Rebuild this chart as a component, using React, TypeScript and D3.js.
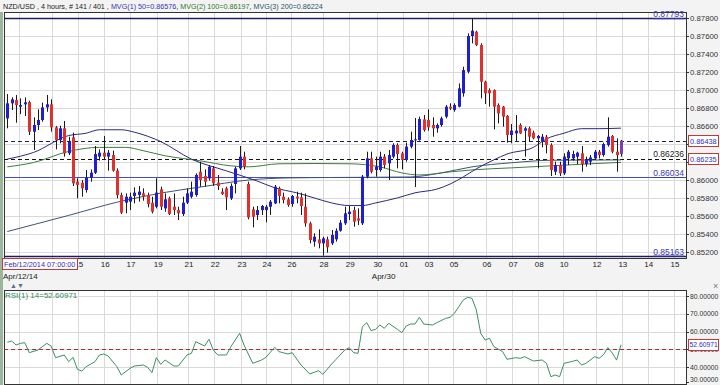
import React from 'react';
import * as d3 from 'd3';

// 4 hour NZD/USD candles
const opens = [
  0.86684, 0.86851, 0.86888, 0.86814, 0.86840, 0.86865, 0.86537, 0.86611, 0.86666, 0.86806,
  0.86840, 0.86585, 0.86445, 0.86574, 0.86297, 0.86474, 0.85983, 0.85972, 0.85890, 0.86027,
  0.86082, 0.86260, 0.86304, 0.86260, 0.86278, 0.86105, 0.85835, 0.85750, 0.85761, 0.85824,
  0.85835, 0.85853, 0.85835, 0.85750, 0.85705, 0.85898, 0.85687, 0.85798, 0.85705, 0.85668,
  0.85624, 0.85750, 0.85816, 0.85835, 0.86093, 0.86045, 0.86020, 0.86130, 0.85972, 0.85872,
  0.85909, 0.85798, 0.85957, 0.86130, 0.86260, 0.85957, 0.85676, 0.85613, 0.85668, 0.85668,
  0.85705, 0.85742, 0.85909, 0.85816, 0.85787, 0.85735, 0.85816, 0.85809, 0.85705, 0.85521,
  0.85318, 0.85344, 0.85299, 0.85344, 0.85299, 0.85344, 0.85439, 0.85521, 0.85624, 0.85668,
  0.85576, 0.85521, 0.86038, 0.86241, 0.86112, 0.86112, 0.86260, 0.86186, 0.86260, 0.86389,
  0.86297, 0.86223, 0.86371, 0.86445, 0.86445, 0.86673, 0.86666, 0.86611, 0.86574, 0.86611,
  0.86703, 0.86814, 0.86777, 0.86814, 0.86962, 0.87202, 0.87597, 0.87645, 0.87497, 0.87091,
  0.86998, 0.86998, 0.86832, 0.86814, 0.86710, 0.86500, 0.86518, 0.86611, 0.86548, 0.86574,
  0.86526, 0.86463, 0.86426, 0.86481, 0.86389, 0.86093, 0.86167, 0.86075, 0.86241, 0.86241,
  0.86260, 0.86297, 0.86178, 0.86204, 0.86241, 0.86315, 0.86278, 0.86389, 0.86489, 0.86315,
  0.86289,
];
const highs = [
  0.86954, 0.86917, 0.86943, 0.86906, 0.86917, 0.86880, 0.86696, 0.86784, 0.86858, 0.86943,
  0.86895, 0.86600, 0.86603, 0.86655, 0.86481, 0.86526, 0.86020, 0.86001, 0.86112, 0.86119,
  0.86378, 0.86341, 0.86489, 0.86334, 0.86326, 0.86130, 0.85861, 0.85853, 0.85861, 0.85920,
  0.85935, 0.85909, 0.85861, 0.85816, 0.86020, 0.85927, 0.85853, 0.85816, 0.85853, 0.85705,
  0.85816, 0.85909, 0.85983, 0.86075, 0.86204, 0.86119, 0.86167, 0.86156, 0.86057, 0.85909,
  0.85927, 0.85964, 0.86149, 0.86378, 0.86315, 0.85983, 0.85705, 0.85713, 0.85724, 0.85724,
  0.85779, 0.85946, 0.85927, 0.85861, 0.85809, 0.85835, 0.85872, 0.85861, 0.85853, 0.85539,
  0.85410, 0.85454, 0.85373, 0.85373, 0.85447, 0.85465, 0.85558, 0.85705, 0.85713, 0.85705,
  0.85687, 0.86057, 0.86315, 0.86315, 0.86260, 0.86315, 0.86289, 0.86334, 0.86408, 0.86408,
  0.86315, 0.86415, 0.86537, 0.86688, 0.86703, 0.86721, 0.86784, 0.86696, 0.86629, 0.86703,
  0.86832, 0.86851, 0.86851, 0.87072, 0.87257, 0.87626, 0.87793, 0.87656, 0.87516, 0.87102,
  0.87017, 0.87006, 0.86851, 0.86821, 0.86721, 0.86622, 0.86721, 0.86629, 0.86592, 0.86592,
  0.86548, 0.86500, 0.86511, 0.86500, 0.86408, 0.86204, 0.86204, 0.86297, 0.86334, 0.86326,
  0.86315, 0.86378, 0.86260, 0.86278, 0.86334, 0.86334, 0.86415, 0.86696, 0.86500, 0.86463,
  0.86445,
];
const lows = [
  0.86574, 0.86777, 0.86636, 0.86732, 0.86710, 0.86500, 0.86334, 0.86555, 0.86647, 0.86758,
  0.86537, 0.86341, 0.86408, 0.86260, 0.86278, 0.85935, 0.85798, 0.85816, 0.85861, 0.85983,
  0.86068, 0.86216, 0.86223, 0.86105, 0.86093, 0.85798, 0.85624, 0.85632, 0.85668, 0.85742,
  0.85761, 0.85772, 0.85698, 0.85632, 0.85687, 0.85668, 0.85650, 0.85613, 0.85613, 0.85558,
  0.85602, 0.85735, 0.85798, 0.85816, 0.85927, 0.85927, 0.85994, 0.85935, 0.85890, 0.85835,
  0.85668, 0.85779, 0.85853, 0.86112, 0.86119, 0.85565, 0.85476, 0.85558, 0.85613, 0.85532,
  0.85613, 0.85735, 0.85742, 0.85742, 0.85705, 0.85705, 0.85742, 0.85613, 0.85484, 0.85299,
  0.85262, 0.85244, 0.85163, 0.85196, 0.85281, 0.85318, 0.85428, 0.85502, 0.85558, 0.85484,
  0.85502, 0.85502, 0.86020, 0.86075, 0.86038, 0.86093, 0.86130, 0.86001, 0.86241, 0.86130,
  0.86119, 0.86204, 0.86352, 0.85924, 0.86437, 0.86537, 0.86548, 0.86481, 0.86526, 0.86592,
  0.86684, 0.86777, 0.86758, 0.86806, 0.86925, 0.87183, 0.87516, 0.87486, 0.86906, 0.86843,
  0.86814, 0.86563, 0.86629, 0.86592, 0.86415, 0.86408, 0.86426, 0.86511, 0.86260, 0.86426,
  0.86452, 0.86130, 0.86363, 0.86297, 0.86045, 0.86057, 0.86045, 0.86057, 0.86167, 0.86216,
  0.86178, 0.86093, 0.86149, 0.86167, 0.86223, 0.86241, 0.86260, 0.86371, 0.86297, 0.86093,
  0.86260,
];
const closes = [
  0.86851, 0.86895, 0.86832, 0.86832, 0.86862, 0.86537, 0.86611, 0.86666, 0.86806, 0.86840,
  0.86585, 0.86445, 0.86574, 0.86297, 0.86426, 0.85964, 0.85946, 0.85909, 0.86027, 0.86082,
  0.86289, 0.86304, 0.86260, 0.86304, 0.86105, 0.85835, 0.85639, 0.85816, 0.85816, 0.85861,
  0.85872, 0.85816, 0.85735, 0.85650, 0.85861, 0.85705, 0.85787, 0.85624, 0.85668, 0.85632,
  0.85750, 0.85853, 0.85872, 0.86057, 0.86001, 0.85983, 0.86149, 0.85964, 0.85935, 0.85846,
  0.85809, 0.85935, 0.86130, 0.86260, 0.86149, 0.85587, 0.85595, 0.85668, 0.85713, 0.85705,
  0.85761, 0.85927, 0.85824, 0.85779, 0.85724, 0.85824, 0.85798, 0.85713, 0.85521, 0.85336,
  0.85373, 0.85299, 0.85355, 0.85255, 0.85392, 0.85439, 0.85528, 0.85632, 0.85650, 0.85539,
  0.85550, 0.86038, 0.86241, 0.86093, 0.86149, 0.86260, 0.86167, 0.86278, 0.86389, 0.86289,
  0.86223, 0.86371, 0.86445, 0.86452, 0.86677, 0.86555, 0.86585, 0.86574, 0.86611, 0.86684,
  0.86814, 0.86792, 0.86832, 0.87017, 0.87220, 0.87597, 0.87656, 0.87497, 0.87091, 0.86962,
  0.86962, 0.86814, 0.86740, 0.86703, 0.86500, 0.86548, 0.86548, 0.86518, 0.86574, 0.86481,
  0.86463, 0.86489, 0.86481, 0.86389, 0.86112, 0.86167, 0.86075, 0.86260, 0.86315, 0.86289,
  0.86304, 0.86178, 0.86223, 0.86252, 0.86315, 0.86278, 0.86400, 0.86481, 0.86315, 0.86278,
  0.86438,
];

// moving averages, read at a few bars each: [bar, value]
const ma50 = [
  [0, 0.86233], [6, 0.86307], [14, 0.86494], [18, 0.86520], [21, 0.86558], [26, 0.86558],
  [29, 0.86531], [35, 0.86427], [42, 0.86233], [50, 0.86102], [57, 0.85990], [61, 0.85915],
  [66, 0.85859], [70, 0.85803], [74, 0.85747], [78, 0.85718], [81, 0.85718], [84, 0.85747],
  [89, 0.85803], [93, 0.85859], [98, 0.85900], [101, 0.85956], [104, 0.86035], [107, 0.86125],
  [111, 0.86225], [114, 0.86289], [120, 0.86363], [123, 0.86457], [127, 0.86520], [131, 0.86570],
  [135, 0.86570], [140, 0.86576],
];
const ma100 = [
  [0, 0.86147], [6, 0.86195], [14, 0.86318], [21, 0.86363], [27, 0.86363], [31, 0.86326],
  [36, 0.86270], [44, 0.86214], [51, 0.86158], [55, 0.86147], [62, 0.86181], [70, 0.86184],
  [78, 0.86181], [85, 0.86147], [90, 0.86080], [94, 0.86057], [101, 0.86091], [106, 0.86113],
  [115, 0.86136], [124, 0.86158], [133, 0.86181], [140, 0.86197],
];
const ma200 = [
  [0, 0.85430], [14, 0.85609], [25, 0.85755], [35, 0.85856], [44, 0.85923], [55, 0.86001],
  [64, 0.86024], [74, 0.86029], [92, 0.86035], [99, 0.86080], [106, 0.86147], [115, 0.86192],
  [124, 0.86220], [140, 0.86224],
];

// RSI(14) read at bars: [bar, value]
const rsi = [
  [0, 53.97], [1, 54.72], [2, 52.47], [3, 53.41], [4, 53.78], [5, 48.17], [7, 49.66], [8, 51.54],
  [9, 53.41], [10, 51.91], [11, 45.36], [13, 46.86], [14, 43.11], [15, 45.54], [16, 38.8],
  [17, 37.86], [18, 40.3], [20, 43.11], [21, 46.86], [22, 47.42], [23, 46.29], [25, 40.3],
  [26, 35.62], [28, 39.36], [29, 40.67], [31, 41.23], [32, 39.93], [33, 36.93], [34, 45.36],
  [35, 41.61], [36, 44.04], [38, 40.67], [39, 40.67], [41, 46.86], [42, 47.79], [43, 54.35],
  [45, 51.91], [46, 55.66], [47, 49.66], [48, 46.86], [50, 46.86], [51, 51.54], [53, 59.03],
  [54, 52.47], [56, 42.17], [58, 44.04], [59, 45.54], [61, 51.17], [62, 48.73], [64, 47.42],
  [65, 48.17], [67, 41.23], [69, 36.18], [71, 38.05], [72, 35.99], [74, 41.8], [75, 44.42],
  [77, 49.66], [78, 50.97], [79, 48.17], [80, 47.79], [81, 62.77], [82, 65.02], [83, 60.52],
  [84, 61.27], [85, 63.71], [86, 61.83], [87, 64.65], [89, 61.27], [90, 59.4], [91, 63.15],
  [92, 64.27], [93, 64.27], [94, 68.02], [95, 64.27], [97, 63.71], [98, 65.02], [100, 67.45],
  [101, 68.02], [102, 70.26], [103, 74.01], [104, 77.75], [105, 79.25], [106, 78.69],
  [107, 72.14], [108, 59.03], [109, 55.28], [110, 56.22], [111, 51.54], [113, 48.73],
  [114, 44.42], [116, 45.36], [117, 44.98], [118, 45.92], [120, 43.48], [122, 44.04],
  [123, 42.17], [124, 34.68], [125, 35.62], [126, 34.68], [127, 42.17], [129, 43.3],
  [130, 44.04], [131, 41.23], [132, 42.17], [134, 45.92], [135, 44.98], [136, 47], [137, 51],
  [138, 48], [139, 44], [140, 52.61],
];

// day separators (bar position) and their labels; the first two sit under the date box
const dayBars = [2.7, 10.2, 16.1, 22.1, 28, 34.2, 41.2, 47.2, 53.3, 59, 64.7, 72, 78, 84.3,
  90.3, 96, 101.7, 109.2, 115.2, 121.1, 126.8, 134.3, 140.2, 146.1, 152.1];
const dayLabels = ['', '', '15', '16', '17', '19', '21', '22', '23', '24', '26', '28', '29',
  '30', '01', '03', '05', '06', '07', '08', '10', '12', '13', '14', '15'];

const priceTicks = d3.range(0, 14).map(k => 0.852 + k * 0.002);
const rsiTicks = [30, 40, 50, 60, 70, 80];

const hiLo = [0.87793, 0.85163];
const support = 0.86034;
const lastPrice = 0.86438;
const prevLine = 0.86236;
const prevTag = 0.86235;
const rsiLast = 52.60971;

const FONT = 'Arial, "Liberation Sans", sans-serif';

export default function App() {
  const left = 4, right = 686;
  const mTop = 12, mBot = 258;
  const rTop = 290, rBot = 384;

  const x = d3.scaleLinear().domain([0, 140]).range([7.3, 621]);
  const y = d3.scaleLinear().domain([0.852, 0.878]).range([252.3, 17.7]);
  const yr = d3.scaleLinear().domain([30, 80]).range([385, 296]);

  const maLine = d3.line<number[]>().x(d => x(d[0])).y(d => y(d[1])).curve(d3.curveMonotoneX);
  const rsiLine = d3.line<number[]>().x(d => x(d[0])).y(d => yr(d[1]));

  const px = (v: number) => Math.round(v) + 0.5;

  return (
    <svg width={720} height={385} style={{ position: 'absolute', left: 0, top: 0 }}
      fontFamily={FONT}>
      <defs>
        <clipPath id="mainClip"><rect x={left} y={mTop} width={right - left} height={mBot - mTop} /></clipPath>
        <clipPath id="rsiClip"><rect x={left} y={rTop} width={right - left} height={rBot - rTop} /></clipPath>
        <clipPath id="dayClip"><rect x={78} y={255} width={620} height={20} /></clipPath>
      </defs>
      <rect x={0} y={0} width={720} height={385} fill="#f3f3f3" />
      <rect x={0} y={mTop} width={3} height={385 - mTop} fill="#9cb59c" />

      {/* header */}
      <text x={3} y={9} fontSize={7.2}>
        <tspan fill="#222">NZD/USD , 4 hours, # 141 / 401 , </tspan>
        <tspan fill="#3535b0">MVG(1) 50=0.86576</tspan>
        <tspan fill="#222">, </tspan>
        <tspan fill="#2f7a2f">MVG(2) 100=0.86197</tspan>
        <tspan fill="#222">, </tspan>
        <tspan fill="#2c5670">MVG(3) 200=0.86224</tspan>
      </text>

      {/* main panel */}
      <rect x={left + 0.5} y={mTop + 0.5} width={right - left} height={mBot - mTop} fill="#fff" stroke="#333" />
      <g stroke="#d9d9d9" strokeWidth={1}>
        {priceTicks.map(t => <line key={t} x1={left + 1} x2={right} y1={px(y(t))} y2={px(y(t))} />)}
        {dayBars.map((b, i) => <line key={i} x1={px(x(b))} x2={px(x(b))} y1={mTop + 1} y2={mBot} />)}
      </g>

      <g clipPath="url(#mainClip)">
        <line x1={left} x2={right} y1={px(y(hiLo[0]))} y2={px(y(hiLo[0]))} stroke="#1c1c60" strokeWidth={1.3} />
        <line x1={left} x2={right} y1={px(y(hiLo[1]))} y2={px(y(hiLo[1]))} stroke="#1c1c60" strokeWidth={1.3} />
        <line x1={left} x2={right} y1={px(y(support))} y2={px(y(support))} stroke="#4a4ad0" strokeWidth={1.2} />
        <line x1={left} x2={right} y1={px(y(lastPrice))} y2={px(y(lastPrice))} stroke="#1c1c60" strokeDasharray="4,3" />
        <line x1={left} x2={right} y1={px(y(prevLine))} y2={px(y(prevLine))} stroke="#111" strokeDasharray="4,3" />

        <path d={maLine(ma200) || ''} fill="none" stroke="#3e5573" strokeWidth={1} />
        <path d={maLine(ma100) || ''} fill="none" stroke="#3d7d3d" strokeWidth={1} />
        <path d={maLine(ma50) || ''} fill="none" stroke="#2a2a7c" strokeWidth={1} />

        {opens.map((o, i) => {
          const c = closes[i];
          const cx = Math.round(x(i));
          const up = c >= o;
          const top = y(Math.max(o, c));
          const bot = y(Math.min(o, c));
          const col = i === opens.length - 1 ? '#7b3fb5' : up ? '#1e1ed2' : '#e2302c';
          return (
            <g key={i}>
              <line x1={cx + 0.5} x2={cx + 0.5} y1={y(highs[i])} y2={y(lows[i])} stroke="#1a1a1a" strokeWidth={1} />
              <rect x={cx - 1} y={top} width={3} height={Math.max(1, bot - top)} fill={col} />
            </g>
          );
        })}
      </g>

      {/* level captions */}
      <g fontSize={8.5} textAnchor="end">
        <text x={684} y={y(hiLo[0]) - 1} fill="#3a3ab0" textDecoration="underline">{hiLo[0].toFixed(5)}</text>
        <text x={684} y={y(support) - 1} fill="#3a3ab0" textDecoration="underline">{support.toFixed(5)}</text>
        <text x={684} y={y(hiLo[1]) - 1} fill="#3a3ab0" textDecoration="underline">{hiLo[1].toFixed(5)}</text>
        <text x={684} y={y(prevLine) - 1.5} fill="#222">{prevLine.toFixed(5)}</text>
      </g>

      {/* price axis */}
      <g fontSize={7.8} fill="#333">
        {priceTicks.map(t => (
          <g key={t}>
            <line x1={right} x2={right + 3} y1={px(y(t))} y2={px(y(t))} stroke="#333" />
            <text x={right + 4} y={y(t) + 3}>{t.toFixed(5)}</text>
          </g>
        ))}
      </g>
      {[lastPrice, prevTag].map(v => (
        <g key={v}>
          <rect x={688.5} y={Math.round(y(v)) - 5.5} width={30} height={11} fill="#fff" stroke="#c03a3a" />
          <text x={690} y={y(v) + 3} fontSize={7.4} fill="#2d2dc0">{v.toFixed(5)}</text>
        </g>
      ))}

      {/* day axis */}
      <g fontSize={8} fill="#222" textAnchor="middle" clipPath="url(#dayClip)">
        {dayLabels.map((d, i) => d ? <text key={i} x={x(dayBars[i]) + 1} y={267}>{d}</text> : null)}
      </g>
      <rect x={2.5} y={258.5} width={75} height={11} fill="#fff" stroke="#c03a3a" />
      <text x={4} y={267} fontSize={7.3} fill="#2d2dc0">Feb/12/2014 07:00:00</text>
      <text x={3} y={279} fontSize={8} fill="#222">Apr/12/14</text>
      <text x={x(dayBars[13]) - 5} y={279} fontSize={8} fill="#222">Apr/30</text>

      {/* rsi panel */}
      <text x={10} y={288} fontSize={7} fill="#5a6f8a">▲▼</text>
      <text x={713} y={289} fontSize={9} fill="#777">×</text>
      <rect x={left + 0.5} y={rTop + 0.5} width={right - left} height={rBot - rTop} fill="#fff" stroke="#333" />
      <g stroke="#d9d9d9" strokeWidth={1} clipPath="url(#rsiClip)">
        {rsiTicks.map(t => <line key={t} x1={left + 1} x2={right} y1={px(yr(t))} y2={px(yr(t))} />)}
        {dayBars.map((b, i) => <line key={i} x1={px(x(b))} x2={px(x(b))} y1={rTop + 1} y2={rBot} />)}
      </g>
      <g clipPath="url(#rsiClip)">
        <line x1={left} x2={right} y1={px(yr(50))} y2={px(yr(50))} stroke="#a8302e" strokeDasharray="4,3" />
        <path d={rsiLine(rsi) || ''} fill="none" stroke="#3c8f64" strokeWidth={1} />
      </g>
      <text x={5} y={298} fontSize={8} fill="#2f8a5a">RSI(1) 14=52.60971</text>
      <g fontSize={6.8} fill="#333">
        {rsiTicks.map(t => (
          <g key={t}>
            <line x1={right} x2={right + 3} y1={px(Math.min(yr(t), 382))} y2={px(Math.min(yr(t), 382))} stroke="#333" />
            <text x={right + 4} y={Math.min(yr(t) + 2.5, 382)}>{t.toFixed(5)}</text>
          </g>
        ))}
      </g>
      <rect x={688.5} y={Math.round(yr(rsiLast)) - 5.5} width={30} height={11} fill="#fff" stroke="#c03a3a" />
      <text x={689.5} y={yr(rsiLast) + 2.5} fontSize={6.8} fill="#2d2dc0">{rsiLast.toFixed(5)}</text>
    </svg>
  );
}
